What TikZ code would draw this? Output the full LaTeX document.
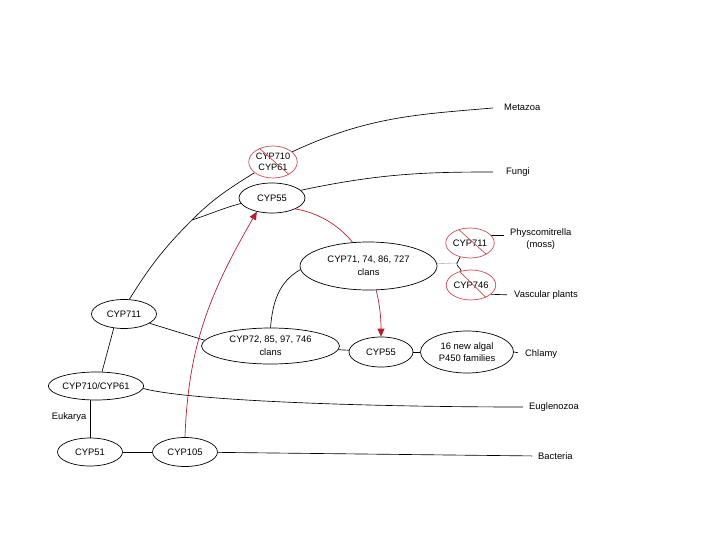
\documentclass[tikz,border=0pt]{standalone}
\usepackage{fontspec}
\setmainfont{Liberation Sans}
\usetikzlibrary{shapes.geometric,arrows.meta,backgrounds}
\definecolor{arrred}{RGB}{185,30,45}
\definecolor{crossred}{RGB}{205,75,85}
\begin{document}
\begin{tikzpicture}[x=1pt,y=-1pt,
  every node/.style={font=\fontsize{9.4}{12.5}\selectfont},
  oval/.style={ellipse, draw, line width=0.7pt, fill=white, inner sep=0pt, align=center},
  gone/.style={ellipse, draw=crossred, line width=0.7pt, fill=white, inner sep=0pt, align=center},
  lbl/.style={inner sep=0pt, anchor=west, align=center},
  link/.style={line width=0.65pt},
  redlink/.style={draw=arrred, line width=0.7pt, -{Triangle[length=8pt,width=7pt]}},
  strike/.style={draw=crossred, line width=0.7pt}]
\useasboundingbox (0,0) rectangle (720,540);

% nodes
\node[oval, minimum width=65pt, minimum height=28pt] (cyp51) at (90,452) {CYP51};
\node[oval, minimum width=65pt, minimum height=29pt] (cyp105) at (185,452) {CYP105};
\node[oval, minimum width=87pt, minimum height=28pt] (cyp710b) at (96,386) {CYP710/CYP61};
\node[oval, minimum width=65pt, minimum height=29pt] (cyp711) at (124,314) {CYP711};
\node[oval, minimum width=138pt, minimum height=36pt] (cyp72) at (270.5,346) {CYP72, 85, 97, 746\\clans};
\node[oval, minimum width=137pt, minimum height=48pt] (cyp71) at (368.5,266) {CYP71, 74, 86, 727\\clans};
\node[oval, minimum width=66pt, minimum height=30pt] (cyp55a) at (272,198) {CYP55};
\node[oval, minimum width=64pt, minimum height=30pt] (cyp55b) at (381,352) {CYP55};
\node[oval, minimum width=93pt, minimum height=42pt] (alg) at (467,352) {16 new algal\\P450 families};
\node[gone, minimum width=45pt, minimum height=32pt, font=\fontsize{9.2}{11}\selectfont] (c710) at (273,162) {CYP710\\CYP61};
\node[gone, minimum width=46pt, minimum height=30pt] (c711) at (470,243) {CYP711};
\node[gone, minimum width=44pt, minimum height=30pt] (c746) at (471,285) {CYP746};

% labels
\node[lbl] (metazoa) at (504,107) {Metazoa};
\node[lbl] (fungi) at (506,172) {Fungi};
\node[lbl, font=\fontsize{9.4}{12}\selectfont] (physco) at (510,239) {Physcomitrella\\(moss)};
\node[lbl] (vasc) at (514,295) {Vascular plants};
\node[lbl] (chlamy) at (525,354) {Chlamy};
\node[lbl] (eugl) at (529,407) {Euglenozoa};
\node[lbl] (bact) at (538,456) {Bacteria};
\node[inner sep=0pt] (euk) at (69,417) {Eukarya};

\coordinate (J) at (192,220);
\coordinate (jn) at (457,263);

\begin{pgfonlayer}{background}
% black tree
\draw[link] (cyp711.70) to[out=58,in=225] (J) to[out=45,in=212] (c710.210);
\draw[link, shorten >=11pt] (c710.28) to[out=25,in=185] (metazoa.west);
\draw[link] (J) to[out=18,in=195] (cyp55a.190);
\draw[link, shorten >=13pt] (cyp55a.15) to[out=12,in=180] (fungi.west);
\draw[link] (cyp711.-20) -- (cyp72.175);
\draw[link] (cyp711.234) -- (cyp710b.67);
\draw[link] (cyp51) -- (cyp51 |- cyp710b.south);
\draw[link, shorten >=6pt] (cyp710b.-3) .. controls +(-15:50pt) and +(180:150pt) .. (eugl.west);
\draw[link] (cyp51) -- (cyp105);
\draw[link, shorten >=6pt] (cyp105) -- (bact.west);
\draw[link] (cyp72.north) to[out=85,in=210] (cyp71.183);
\draw[link] (cyp72) -- (cyp55b);
\draw[link] (cyp55b) -- (alg);
\draw[link, shorten >=7pt] (alg.east) -- (chlamy.west);
\draw[gray!55, line width=0.6pt] (cyp71) -- (jn);
\draw[link] (c711.235) to[out=245,in=75] (jn) to[out=-105,in=100] (c746.125);
\draw[link, shorten >=6pt] (c711.20) -- (c711.20 -| physco.west);
\draw[link, shorten >=7pt] (c746.-25) -- (vasc.west);
% red arrows
\draw[redlink] (cyp105.north) to[out=88,in=240] (cyp55a.222);
\draw[redlink] (cyp55a.-25) to[out=-10,in=90] (cyp55b.north);
\end{pgfonlayer}

% strike-outs
\draw[strike] (c710.135) -- (c710.-38);
\draw[strike] (c711.130) -- (c711.-35);
\draw[strike] (c746.130) -- (c746.-40);
\end{tikzpicture}
\end{document}
